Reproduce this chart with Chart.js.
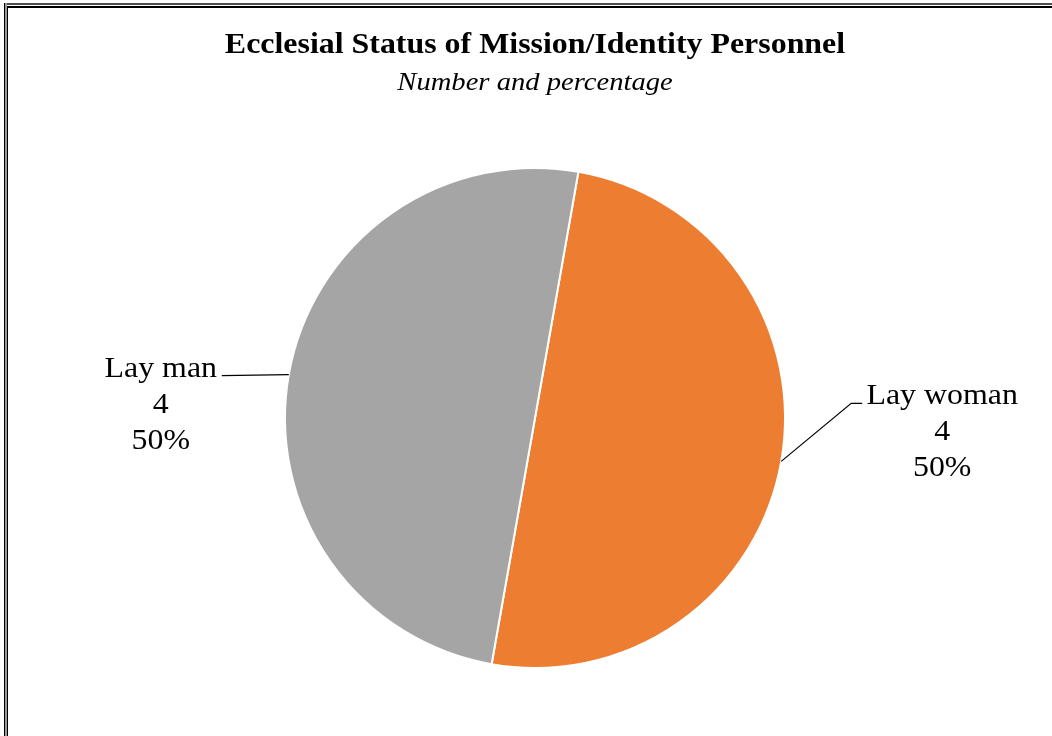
<!DOCTYPE html>
<html>
<head>
<meta charset="utf-8">
<script src="https://cdn.jsdelivr.net/npm/chart.js@4"></script>
<style>
  html, body { margin: 0; padding: 0; background: #fff; }
  #wrap { width: 1052px; height: 736px; position: relative; }
</style>
</head>
<body>
<div id="wrap"><canvas id="pieChart" width="1052" height="736"></canvas></div>
<script>
// data
const categories = ["Lay woman", "Lay man"];
const counts = [4, 4];
const sliceColors = ["#ED7D31", "#A5A5A5"];
const titleText = "Ecclesial Status of Mission/Identity Personnel";
const subtitleText = "Number and percentage";

const total = counts.reduce((a, b) => a + b, 0);

// text is a bit wider than Liberation Serif, stretch it a little
const SX = 1.1;
function drawText(ctx, txt, x, y, font, align) {
  ctx.save();
  ctx.font = font;
  ctx.textBaseline = "middle";
  ctx.textAlign = align || "center";
  ctx.translate(x, y);
  ctx.scale(SX, 1);
  ctx.fillText(txt, 0, 0);
  ctx.restore();
}

// frame, title and callout labels
const decorations = {
  id: "decorations",
  beforeDraw(chart) {
    const ctx = chart.ctx;
    ctx.save();
    ctx.fillStyle = "#fff";
    ctx.fillRect(0, 0, chart.width, chart.height);
    // double frame (top + left visible)
    ctx.fillStyle = "#4d4d4d";
    ctx.fillRect(4, 3, chart.width, 2);
    ctx.fillStyle = "#000";
    ctx.fillRect(7, 6, chart.width, 2);
    ctx.fillStyle = "#000";
    ctx.fillRect(4, 3, 1, chart.height);
    ctx.fillStyle = "#9a9a9a";
    ctx.fillRect(5, 3, 2, chart.height);
    ctx.fillStyle = "#000";
    ctx.fillRect(7, 6, 1, chart.height);
    ctx.restore();
  },
  afterDraw(chart) {
    const ctx = chart.ctx;
    const cx = (chart.chartArea.left + chart.chartArea.right) / 2;
    ctx.save();
    ctx.fillStyle = "#000";
    drawText(ctx, titleText, cx, 46, "bold 29px 'Liberation Serif', 'Times New Roman', serif");
    drawText(ctx, subtitleText, cx, 83, "italic 26px 'Liberation Serif', 'Times New Roman', serif");

    const meta = chart.getDatasetMeta(0);
    const labelFont = "29px 'Liberation Serif', 'Times New Roman', serif";
    meta.data.forEach((arc, i) => {
      const p = arc.getProps(["x", "y", "startAngle", "endAngle", "outerRadius"], true);
      const mid = (p.startAngle + p.endAngle) / 2;
      const ax = p.x + Math.cos(mid) * p.outerRadius;
      const ay = p.y + Math.sin(mid) * p.outerRadius;
      const lines = [categories[i], String(counts[i]), Math.round(counts[i] / total * 100) + "%"];
      ctx.strokeStyle = "#000";
      ctx.lineWidth = 1.2;
      ctx.beginPath();
      let bx, by;
      if (Math.cos(mid) >= 0) {
        // right side: diagonal then short horizontal
        ctx.moveTo(ax, ay);
        ctx.lineTo(ax + 70, ay - 58);
        ctx.lineTo(ax + 81, ay - 58);
        bx = ax + 161;
        by = ay - 65;
      } else {
        ctx.moveTo(ax, ay);
        ctx.lineTo(ax - 67, ay + 1);
        bx = ax - 128;
        by = ay - 5;
      }
      ctx.stroke();
      lines.forEach((t, k) => drawText(ctx, t, bx, by + k * 36, labelFont));
    });
    ctx.restore();
  }
};

new Chart(document.getElementById("pieChart"), {
  type: "pie",
  data: {
    labels: categories,
    datasets: [{
      data: counts,
      backgroundColor: sliceColors,
      borderColor: "#fff",
      borderWidth: 2
    }]
  },
  options: {
    responsive: false,
    animation: false,
    rotation: 10,
    layout: { padding: { left: 284, right: 266, top: 167, bottom: 67 } },
    plugins: {
      legend: { display: false },
      tooltip: { enabled: false }
    }
  },
  plugins: [decorations]
});
</script>
</body>
</html>
